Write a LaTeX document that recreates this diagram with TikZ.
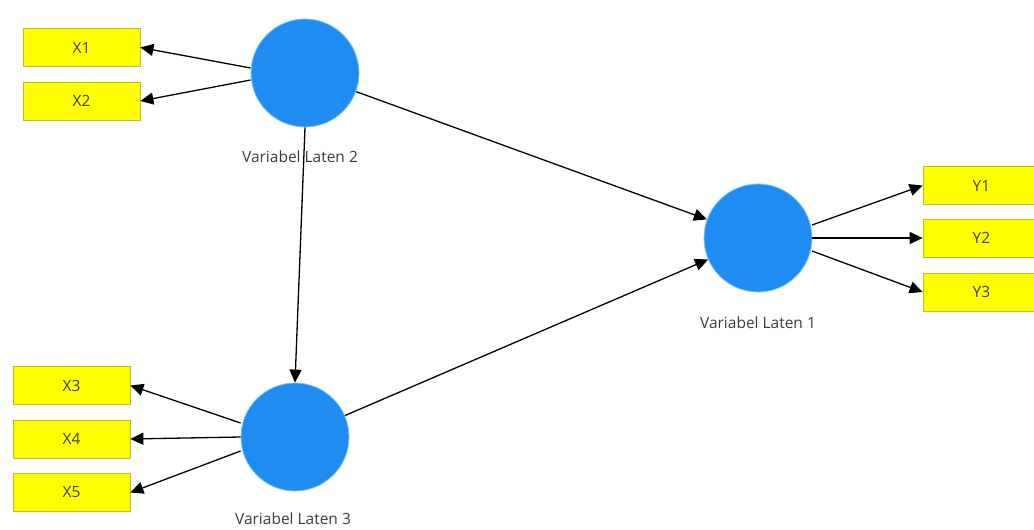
\documentclass[tikz,border=0pt]{standalone}
\usepackage{fontspec}
\setmainfont{Open Sans}
\usetikzlibrary{arrows.meta}
\definecolor{lvblue}{RGB}{30,140,240}
\definecolor{lvedge}{RGB}{120,200,255}
\definecolor{mvyellow}{RGB}{255,255,0}
\definecolor{mvedge}{RGB}{190,190,40}
\definecolor{txt}{RGB}{60,60,60}
\begin{document}
\begin{tikzpicture}[x=1pt,y=-1pt,
  latent/.style={circle,fill=lvblue,draw=lvedge,line width=0.8pt,minimum size=108pt,inner sep=0pt},
  manifest/.style={rectangle,fill=mvyellow,draw=mvedge,line width=0.8pt,minimum width=117pt,minimum height=38pt,inner sep=0pt,font=\fontsize{15.5}{17}\selectfont,text=txt},
  lvlabel/.style={font=\fontsize{15.5}{17}\selectfont,text=txt},
  link/.style={-{Triangle[length=13pt,width=12pt]},line width=1.3pt,black}]
\useasboundingbox (0,0) rectangle (1034,530);
\node[latent] (lv2) at (305,73) {};
\node[latent] (lv1) at (758,238) {};
\node[latent] (lv3) at (295,437) {};
\node[lvlabel] (l2) at (300,157) {Variabel Laten 2};
\node[lvlabel] (l1) at (758,323) {Variabel Laten 1};
\node[lvlabel] (l3) at (293,519) {Variabel Laten 3};
\node[manifest] (x1) at (81.5,47.5) {X1};
\node[manifest] (x2) at (81.5,101) {X2};
\node[manifest] (x3) at (71.5,385.5) {X3};
\node[manifest] (x4) at (71.5,439) {X4};
\node[manifest] (x5) at (71.5,492.5) {X5};
\node[manifest] (y1) at (981.5,185.5) {Y1};
\node[manifest] (y2) at (981.5,238) {Y2};
\node[manifest] (y3) at (981.5,292) {Y3};
\draw[link] (lv2.west |- 0,68) -- (x1.east);
\draw[link] (lv2.west |- 0,80) -- (x2.east);
\draw[link] (lv2) -- (lv1);
\draw[link] (lv2.south) -- (lv3.north);
\draw[link] (lv3) -- (lv1);
\draw[link] (lv3.west |- 0,423) -- (x3.east);
\draw[link] (lv3.west |- 0,437) -- (x4.east);
\draw[link] (lv3.west |- 0,451) -- (x5.east);
\draw[link] (lv1) ++(54,-13) coordinate (a1) (a1) -- (y1.west);
\draw[link] (lv1.east) -- (y2.west);
\draw[link] (lv1) ++(54,13) coordinate (a3) (a3) -- (y3.west);
\end{tikzpicture}
\end{document}
